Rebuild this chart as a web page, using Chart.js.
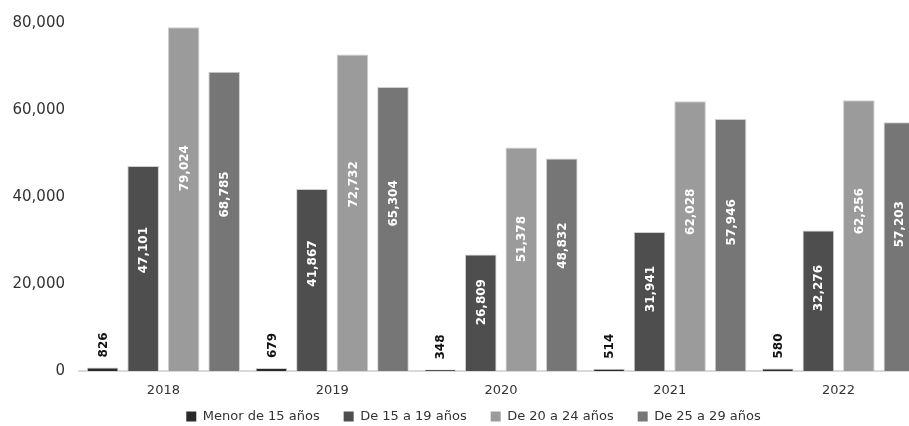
<!DOCTYPE html>
<html>
<head>
<meta charset="utf-8">
<script src="https://cdn.jsdelivr.net/npm/chart.js@4.4.0/dist/chart.umd.min.js"></script>
<style>
  html, body { margin: 0; padding: 0; background: #fff; overflow: hidden; }
  #wrap { width: 923px; height: 426px; position: relative; }
</style>
</head>
<body>
<div id="wrap"><canvas id="chart"></canvas></div>
<script>
// Years on the x axis
const years = ['2018', '2019', '2020', '2021', '2022'];

// Series values
const menor15 = [826, 679, 348, 514, 580];
const de15a19 = [47101, 41867, 26809, 31941, 32276];
const de20a24 = [79024, 72732, 51378, 62028, 62256];
const de25a29 = [68785, 65304, 48832, 57946, 57203];

const seriesNames = ['Menor de 15 años', 'De 15 a 19 años', 'De 20 a 24 años', 'De 25 a 29 años'];
const seriesColors = ['#2a2a2a', '#4e4e4e', '#9b9b9b', '#767676'];

// y axis ticks: 0 .. 80,000 every 20,000
const yMax = 80000;
const yStep = 20000;

const fontFamily = "'DejaVu Sans', sans-serif";

// Draws the rotated value labels on the bars
const barLabels = {
    id: 'barLabels',
    afterDatasetsDraw(chart) {
        const ctx = chart.ctx;
        chart.data.datasets.forEach((ds, di) => {
            const meta = chart.getDatasetMeta(di);
            meta.data.forEach((bar, i) => {
                const value = ds.data[i];
                const text = value.toLocaleString('en-US');
                ctx.save();
                ctx.font = 'bold 12px ' + fontFamily;
                ctx.textBaseline = 'middle';
                if (value < 5000) {
                    // small values sit above the bar in black
                    ctx.translate(bar.x, bar.y - 10);
                    ctx.rotate(-Math.PI / 2);
                    ctx.textAlign = 'left';
                    ctx.fillStyle = '#111';
                } else {
                    const cy = bar.base - (bar.base - bar.y) * 0.59;
                    ctx.translate(bar.x, cy);
                    ctx.rotate(-Math.PI / 2);
                    ctx.textAlign = 'center';
                    ctx.fillStyle = '#ffffff';
                }
                ctx.fillText(text, 0, 1);
                ctx.restore();
            });
        });
    }
};

// Move the legend row back inside the canvas and a bit to the right
const legendShift = {
    id: 'legendShift',
    afterLayout(chart) {
        const lg = chart.legend;
        lg.top -= 15;
        lg.bottom -= 15;
        lg.left += 12;
        lg.right += 12;
    }
};

const ctx = document.getElementById('chart').getContext('2d');
const chart = new Chart(ctx, {
    type: 'bar',
    data: {
        labels: years,
        datasets: [menor15, de15a19, de20a24, de25a29].map((values, k) => ({
            label: seriesNames[k],
            data: values,
            backgroundColor: seriesColors[k],
            borderColor: '#cfcfcf',
            borderWidth: 1,
            barPercentage: 0.78,
            categoryPercentage: 0.96
        }))
    },
    options: {
        responsive: true,
        maintainAspectRatio: false,
        animation: false,
        layout: {
            padding: { top: 20, right: 0, left: 0, bottom: -15 }
        },
        plugins: {
            legend: {
                position: 'bottom',
                maxHeight: 40,
                labels: {
                    boxWidth: 10,
                    boxHeight: 10,
                    padding: 24,
                    color: '#333',
                    font: { family: fontFamily, size: 13 },
                    generateLabels(chart) {
                        return Chart.defaults.plugins.legend.labels.generateLabels(chart)
                            .map(l => ({ ...l, lineWidth: 0 }));
                    }
                }
            },
            tooltip: { enabled: false }
        },
        scales: {
            x: {
                grid: { display: false, drawTicks: false },
                border: { display: true, color: '#d9d9d9', width: 2 },
                ticks: {
                    padding: 12,
                    color: '#333',
                    font: { family: fontFamily, size: 13 }
                },
                afterFit(scale) {
                    scale.height = 30;
                }
            },
            y: {
                min: 0,
                max: yMax,
                grid: { display: false, drawTicks: false },
                border: { display: false },
                ticks: {
                    stepSize: yStep,
                    padding: 14,
                    color: '#333',
                    font: { family: fontFamily, size: 15 },
                    callback: v => v.toLocaleString('en-US')
                },
                afterFit(scale) {
                    scale.width = 79;
                }
            }
        }
    },
    plugins: [barLabels, legendShift]
});
</script>
</body>
</html>
